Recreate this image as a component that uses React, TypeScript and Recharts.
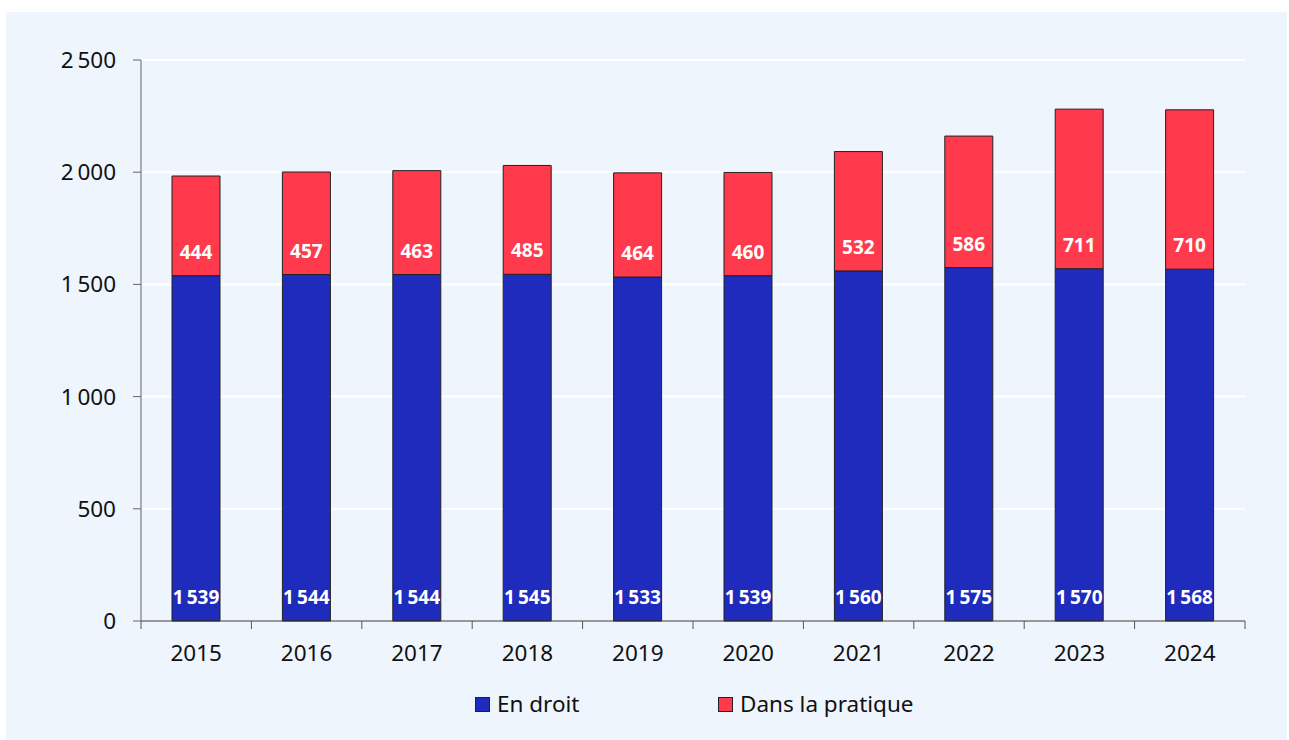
import React from "react";
import {
  BarChart,
  Bar,
  XAxis,
  YAxis,
  CartesianGrid,
  LabelList
} from "recharts";

const years = ["2015", "2016", "2017", "2018", "2019", "2020", "2021", "2022", "2023", "2024"];
const enDroit = [1539, 1544, 1544, 1545, 1533, 1539, 1560, 1575, 1570, 1568];
const dansLaPratique = [444, 457, 463, 485, 464, 460, 532, 586, 711, 710];
const yTicks = [0, 500, 1000, 1500, 2000, 2500];

const BLUE = "#1f2bbd";
const RED = "#ff3a4c";
const TICK_SIZE = 8;
const TICK_MARGIN = 16;
const FONT = 22.5;

// french style thousands: narrow no-break space
const fmt = (v: any) => {
  const n = Number(v);
  if (n < 1000) return String(n);
  return `${Math.floor(n / 1000)}\u202F${String(n % 1000).padStart(3, "0")}`;
};

const data = years.map((year, i) => ({
  year,
  droit: enDroit[i],
  pratique: dansLaPratique[i]
}));

// year label + tick marks on the category boundaries
const YearTick = (props: any) => {
  const { x, y, payload, index, visibleTicksCount } = props;
  const half = payload.offset ?? 55.2;
  const axisY = y - TICK_SIZE - TICK_MARGIN;
  return (
    <g>
      <line x1={x - half} x2={x - half} y1={axisY} y2={axisY + TICK_SIZE} stroke="#555" />
      {index === visibleTicksCount - 1 && (
        <line x1={x + half} x2={x + half} y1={axisY} y2={axisY + TICK_SIZE} stroke="#555" />
      )}
      <text x={x} y={y} dy="0.71em" textAnchor="middle" fill="#111" fontSize={FONT}>
        {payload.value}
      </text>
    </g>
  );
};

const LegendItem = ({ color, label, left }: { color: string; label: string; left: number }) => (
  <div style={{ position: "absolute", left, top: 679, display: "flex", alignItems: "center" }}>
    <span
      style={{
        width: 13,
        height: 13,
        background: color,
        border: "1px solid #222",
        marginRight: 7
      }}
    />
    <span style={{ fontSize: FONT, color: "#111", lineHeight: "26px" }}>{label}</span>
  </div>
);

export default function App() {
  return (
    <div
      style={{
        position: "absolute",
        left: 6,
        top: 12,
        width: 1281,
        height: 728,
        background: "#eef5fc",
        fontFamily: "'Noto Sans', sans-serif"
      }}
    >
      <BarChart
        width={1281}
        height={728}
        data={data}
        margin={{ top: 48, right: 42, left: 0, bottom: 60 }}
      >
        <CartesianGrid stroke="#ffffff" strokeWidth={2} vertical={false} />
        <XAxis
          dataKey="year"
          height={59}
          axisLine={{ stroke: "#333" }}
          tickLine={false}
          tickSize={TICK_SIZE}
          tickMargin={TICK_MARGIN}
          tick={<YearTick />}
          interval={0}
        />
        <YAxis
          width={135}
          domain={[0, 2500]}
          ticks={yTicks}
          axisLine={{ stroke: "#666" }}
          tickLine={{ stroke: "#666" }}
          tickSize={8}
          tickMargin={17}
          tick={{ fill: "#111", fontSize: FONT }}
          tickFormatter={fmt}
        />
        <YAxis
          yAxisId="r"
          orientation="right"
          width={0}
          tick={false}
          tickLine={false}
          axisLine={{ stroke: "#ffffff", strokeWidth: 2 }}
        />
        <Bar
          dataKey="droit"
          stackId="s"
          fill={BLUE}
          stroke="#222"
          strokeWidth={1}
          barSize={48}
          isAnimationActive={false}
        >
          <LabelList
            dataKey="droit"
            position="insideBottom"
            offset={17}
            fill="#ffffff"
            fontSize={19}
            fontWeight="bold"
            formatter={fmt}
          />
        </Bar>
        <Bar
          dataKey="pratique"
          stackId="s"
          fill={RED}
          stroke="#222"
          strokeWidth={1}
          barSize={48}
          isAnimationActive={false}
        >
          <LabelList
            dataKey="pratique"
            position="insideBottom"
            offset={17}
            fill="#ffffff"
            fontSize={19}
            fontWeight="bold"
            formatter={fmt}
          />
        </Bar>
      </BarChart>
      <LegendItem color={BLUE} label="En droit" left={469} />
      <LegendItem color={RED} label="Dans la pratique" left={712} />
    </div>
  );
}
